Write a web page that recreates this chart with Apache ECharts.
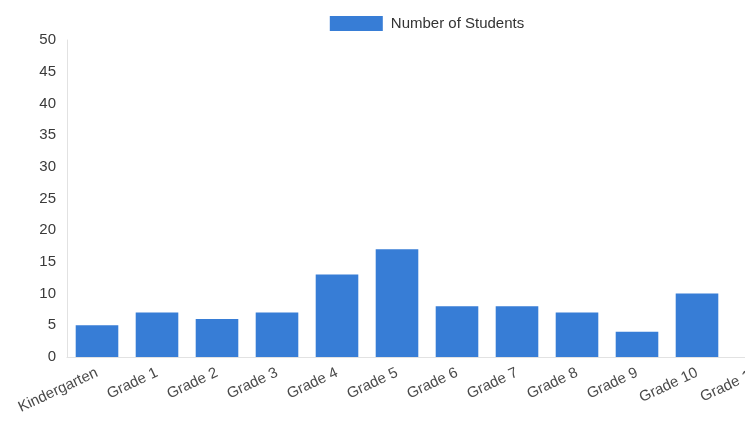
<!DOCTYPE html>
<html>
<head>
<meta charset="utf-8">
<script src="https://cdn.jsdelivr.net/npm/echarts@6/dist/echarts.min.js"></script>
<style>
html,body{margin:0;padding:0;background:#fff;overflow:hidden;width:745px;height:423px;}
#chart{width:854px;height:423px;}
</style>
</head>
<body>
<div id="chart"></div>
<script>
const categories = ["Kindergarten","Grade 1","Grade 2","Grade 3","Grade 4","Grade 5","Grade 6","Grade 7","Grade 8","Grade 9","Grade 10","Grade 11","Grade 12"];
const students = [5, 7, 6, 7, 13, 17, 8, 8, 7, 4, 10, null, null];
const yTicks = {min: 0, max: 50, interval: 5};
const seriesName = "Number of Students";

const chart = echarts.init(document.getElementById('chart'), null, {renderer: 'canvas'});
chart.setOption({
  animation: false,
  legend: {
    top: 11,
    left: 'center',
    itemWidth: 53,
    itemHeight: 15,
    itemGap: 10,
    icon: 'rect',
    textStyle: {fontFamily: 'Liberation Sans, Arial, sans-serif', fontSize: 15, color: '#333', padding: [0,0,0,3]},
    data: [seriesName]
  },
  grid: {left: 67, right: 7, top: 40, bottom: 66, containLabel: false},
  xAxis: {
    type: 'category',
    data: categories,
    axisLine: {show: true, lineStyle: {color: '#e2e2e2'}},
    axisTick: {show: false},
    axisLabel: {rotate: 25, fontSize: 15, fontFamily: 'Liberation Sans, Arial, sans-serif', color: '#4a4a4a', margin: 15, interval: 0},
    splitLine: {show: false}
  },
  yAxis: {
    type: 'value',
    min: yTicks.min, max: yTicks.max, interval: yTicks.interval,
    axisLine: {show: true, lineStyle: {color: '#e2e2e2'}},
    axisTick: {show: false},
    axisLabel: {fontSize: 15, fontFamily: 'Liberation Sans, Arial, sans-serif', color: '#3a3a3a', margin: 11},
    splitLine: {show: false}
  },
  series: [{
    name: seriesName,
    type: 'bar',
    data: students,
    barWidth: '71%',
    itemStyle: {color: '#377dd6'}
  }]
});
</script>
</body>
</html>
